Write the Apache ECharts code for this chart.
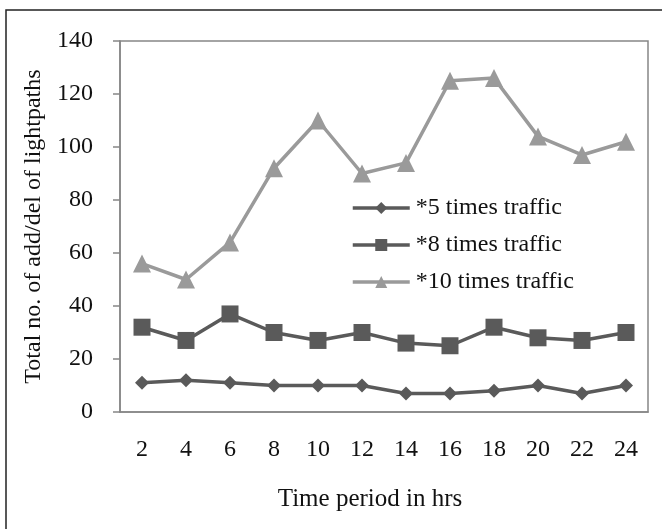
<!DOCTYPE html>
<html>
<head>
<meta charset="utf-8">
<script src="https://cdn.jsdelivr.net/npm/echarts@6/dist/echarts.min.js"></script>
<style>
  html, body { margin: 0; padding: 0; background: #fff; }
  #main { width: 662px; height: 529px; }
</style>
</head>
<body>
<div id="main"></div>
<script>
// time period (hrs)
var hours = ['2', '4', '6', '8', '10', '12', '14', '16', '18', '20', '22', '24'];
// total add/del of lightpaths
var traffic5 = [11, 12, 11, 10, 10, 10, 7, 7, 8, 10, 7, 10];
var traffic8 = [32, 27, 37, 30, 27, 30, 26, 25, 32, 28, 27, 30];
var traffic10 = [56, 50, 64, 92, 110, 90, 94, 125, 126, 104, 97, 102];
var yTicks = [0, 20, 40, 60, 80, 100, 120, 140];

var font = 'Liberation Serif';
var dark = '#5a5a5a';
var light = '#9a9a9a';
var axisGrey = '#868686';

var myChart = echarts.init(document.getElementById('main'));

var option = {
    backgroundColor: '#fff',
    animation: false,
    grid: {
        left: 120, right: 14, top: 41, bottom: 117,
        show: true, borderColor: axisGrey, borderWidth: 1.5
    },
    // outer frame of the figure
    graphic: [{
        type: 'rect',
        shape: { x: 6, y: 10, width: 700, height: 560 },
        style: { fill: 'none', stroke: '#222', lineWidth: 1.5 },
        silent: true
    }],
    legend: {
        orient: 'vertical',
        left: 346, top: 191,
        itemWidth: 57, itemHeight: 15, itemGap: 13,
        lineStyle: { width: 3.5 },
        textStyle: { fontFamily: font, fontSize: 24, color: '#111', padding: [0, 0, 0, 1] },
        data: ['*5 times traffic', '*8 times traffic', '*10 times traffic']
    },
    xAxis: {
        type: 'category',
        data: hours,
        boundaryGap: true,
        name: 'Time period in hrs',
        nameLocation: 'middle',
        nameGap: 75,
        nameTextStyle: { fontFamily: font, fontSize: 25, color: '#111', padding: [0, 28, 0, 0] },
        axisLine: { lineStyle: { color: axisGrey, width: 1.5 } },
        axisTick: { alignWithLabel: true, length: 5, lineStyle: { color: axisGrey, width: 1.5 } },
        axisLabel: { fontFamily: font, fontSize: 24, color: '#111', margin: 26 },
        splitLine: { show: false }
    },
    yAxis: {
        type: 'value',
        min: yTicks[0], max: yTicks[yTicks.length - 1], interval: 20,
        name: 'Total no. of add/del of lightpaths',
        nameLocation: 'middle',
        nameGap: 71,
        nameTextStyle: { fontFamily: font, fontSize: 24, color: '#111' },
        axisLine: { show: true, lineStyle: { color: axisGrey, width: 1.5 } },
        axisTick: { show: true, length: 7, lineStyle: { color: axisGrey, width: 1.5 } },
        axisLabel: { fontFamily: font, fontSize: 24, color: '#111', margin: 27 },
        splitLine: { show: false }
    },
    series: [{
        name: '*5 times traffic', type: 'line', data: traffic5,
        symbol: 'diamond', symbolSize: 14,
        lineStyle: { color: dark, width: 3.5 },
        itemStyle: { color: dark }
    }, {
        name: '*8 times traffic', type: 'line', data: traffic8,
        symbol: 'rect', symbolSize: 17,
        lineStyle: { color: dark, width: 3.5 },
        itemStyle: { color: dark }
    }, {
        name: '*10 times traffic', type: 'line', data: traffic10,
        symbol: 'triangle', symbolSize: 18,
        lineStyle: { color: light, width: 3.5 },
        itemStyle: { color: light }
    }]
};
myChart.setOption(option);
</script>
</body>
</html>
